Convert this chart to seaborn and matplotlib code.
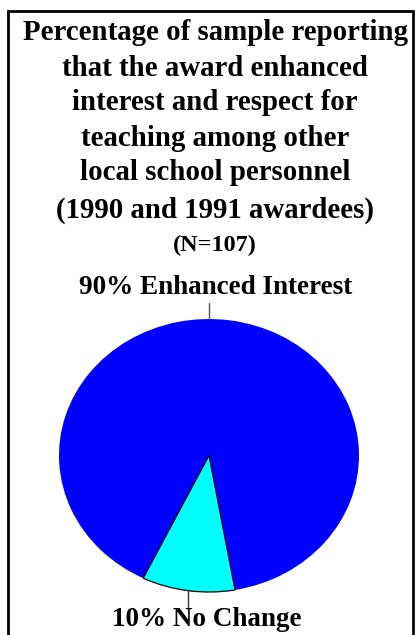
import numpy as np
import matplotlib
matplotlib.use("Agg")
import matplotlib.pyplot as plt
import seaborn as sns
from matplotlib.patches import Rectangle

# ---- data ----
categories = ["Enhanced Interest", "No Change"]
percentages = [90, 10]
slice_colors = ["#0000FF", "#00FFFF"]
title_lines = [
    "Percentage of sample reporting",
    "that the award enhanced",
    "interest and respect for",
    "teaching among other",
    "local school personnel",
    "(1990 and 1991 awardees)",
]
subtitle = "(N=107)"

sns.set_theme(style="white")
plt.rcParams["font.family"] = ["Liberation Serif", "DejaVu Serif"]
plt.rcParams["text.color"] = "black"

W, H = 415, 635
fig = plt.figure(figsize=(W / 100, H / 100), dpi=100)

# frame around the figure
fig.patches.append(Rectangle((8 / W, -0.05), (413 - 8) / W, (H - 11) / H + 0.05,
                             transform=fig.transFigure, fill=False,
                             edgecolor="black", linewidth=2))

# title
ys = [33, 68, 103, 138, 173, 210]
for line, y in zip(title_lines, ys):
    fig.text(215 / W, 1 - y / H, line, ha="center", va="center",
             fontsize=20.8, fontweight="bold", color="black")
fig.text(215 / W, 1 - 245 / H, subtitle, ha="center", va="center",
         fontsize=17.5, fontweight="bold", color="black")

# pie (elliptical, like the original)
ax = fig.add_axes([59 / W, 43 / H, 300 / W, 273 / H])
wedges, _ = ax.pie(percentages, colors=slice_colors, startangle=-80,
                   counterclock=True, radius=1.0,
                   wedgeprops=dict(linewidth=0))
wedges[1].set_edgecolor("black")
wedges[1].set_linewidth(0.9)
ax.set_aspect("auto")
ax.set_xlim(-1, 1)
ax.set_ylim(-1, 1)
ax.axis("off")

# labels with leader lines
labels = [f"{p}% {c}" for p, c in zip(percentages, categories)]
# top label
ax.plot([0, 0], [1.0, 1.12], color="#555555", lw=1, clip_on=False)
fig.text(216 / W, 1 - 288 / H, labels[0], ha="center", va="center",
         fontsize=19.5, fontweight="bold", color="black")
# bottom label at cyan wedge middle
w = wedges[1]
mid = np.deg2rad((w.theta1 + w.theta2) / 2)
x0 = np.cos(mid)
y0 = np.sin(mid)
ax.plot([x0, x0], [y0, -1.11], color="#333333", lw=1, clip_on=False)
fig.text(207 / W, 1 - 619 / H, labels[1], ha="center", va="center",
         fontsize=19.5, fontweight="bold", color="black")

fig.savefig("out.png", dpi=100)
